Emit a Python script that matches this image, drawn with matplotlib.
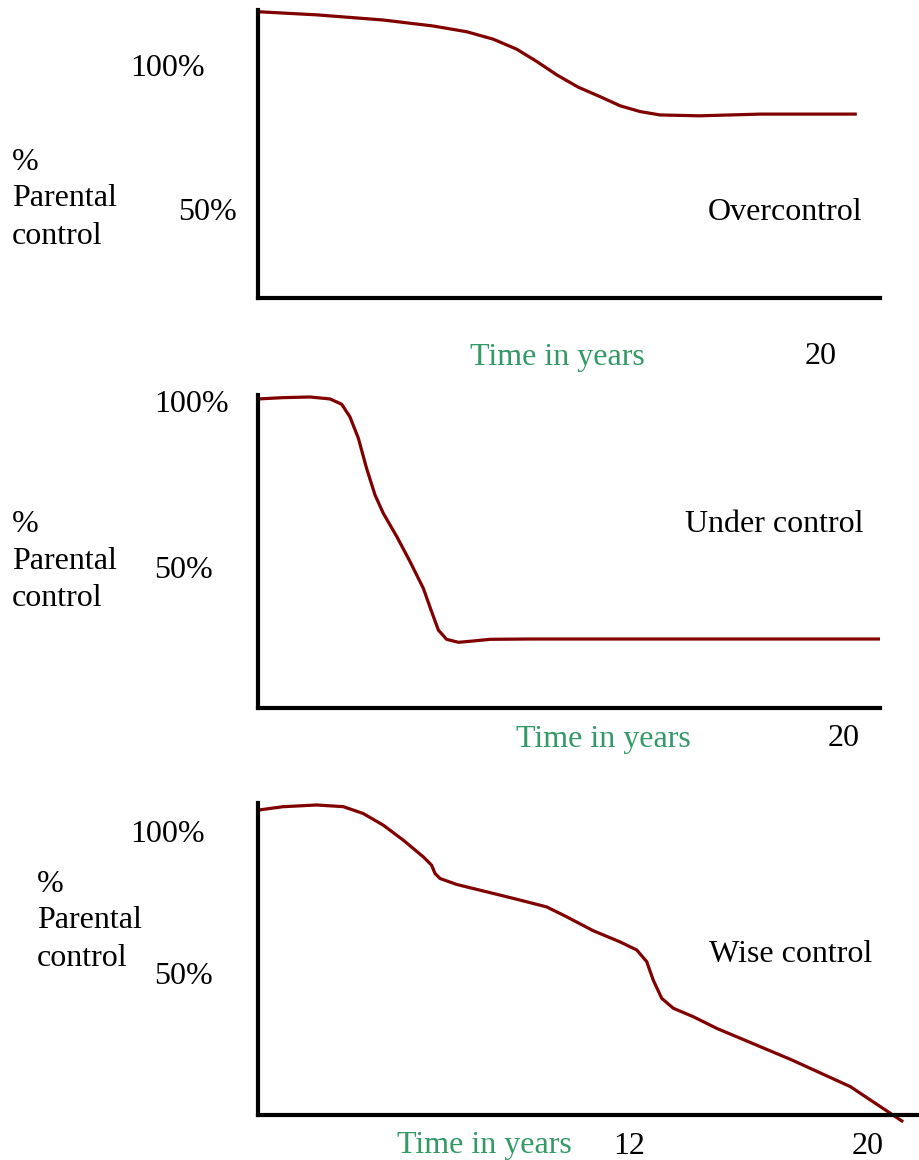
import matplotlib
matplotlib.use("Agg")
import matplotlib.pyplot as plt

W, H = 919, 1160
plt.rcParams['font.family'] = ['Liberation Serif', 'DejaVu Serif']

CURVE = "#800000"
GREEN = "#339966"

# ---- data (x: years, y: % parental control) ----
over_years = [0, 2.08, 4.43, 6.2, 7.38, 8.32, 9.15, 9.86, 10.57, 11.33, 12.1, 12.81, 13.51, 14.22, 15.63, 17.76, 21.18]
over_pct = [118.6, 117.5, 115.7, 113.6, 111.6, 109.0, 105.5, 101.2, 96.5, 92.2, 88.9, 85.7, 83.7, 82.5, 82.2, 82.8, 82.8]

under_years = [0, 0.89, 1.84, 2.55, 2.96, 3.25, 3.55, 3.84, 4.14, 4.43, 4.91, 5.38, 5.85, 6.14, 6.38,
               6.67, 7.09, 7.62, 8.21, 9.62, 22.0]
under_pct = [100.6, 101.0, 101.2, 100.6, 99.0, 95.2, 88.7, 79.6, 71.5, 66.0, 58.9, 51.3, 43.2, 36.2, 30.6,
             27.8, 26.9, 27.3, 27.8, 27.9, 27.9]

wise_years = [0, 0.89, 2.08, 3.02, 3.72, 4.43, 5.14, 5.85, 6.14, 6.26, 6.44, 7.03, 7.85, 9.03, 10.21,
              10.92, 11.86, 12.8, 13.4, 13.75, 13.98, 14.28, 14.69, 15.4, 16.23, 18.88, 20.95, 22.82]
wise_pct = [107.4, 108.6, 109.2, 108.6, 106.2, 102.1, 96.8, 90.9, 88.0, 85.1, 83.3, 81.2, 79.2, 76.3, 73.3,
            69.8, 64.9, 61.0, 58.1, 54.0, 47.5, 41.1, 37.6, 34.6, 30.5, 19.4, 10.0, -2.4]

titles = ["Overcontrol", "Under control", "Wise control"]
ylabel_lines = ["%", "Parental", "control"]
pct_labels = ["100%", "50%"]
xlabel = "Time in years"

fig = plt.figure(figsize=(W / 100, H / 100), dpi=100)


def fx(x):
    return x / W


def fy(y):
    return 1 - y / H


def add_panel(left, right, top, bottom, xlim, ylim):
    ax = fig.add_axes([fx(left), fy(bottom), fx(right - left), (bottom - top) / H])
    ax.set_xlim(*xlim)
    ax.set_ylim(*ylim)
    for s in ("top", "right"):
        ax.spines[s].set_visible(False)
    for s in ("left", "bottom"):
        ax.spines[s].set_linewidth(3.0)
        ax.spines[s].set_color("black")
        ax.spines[s].set_capstyle("projecting")
    ax.set_xticks([])
    ax.set_yticks([])
    ax.patch.set_alpha(0)
    return ax


FS = 23
DY = 4


def t(x, y, s, ha="left", color="black", **kw):
    fig.text(fx(x), fy(y + DY), s, ha=ha, va="center", fontsize=FS, color=color, **kw)


def curve(ax, xs, ys):
    ax.plot(xs, ys, color=CURVE, lw=2.3, solid_capstyle="butt",
            solid_joinstyle="round", clip_on=False)


# Panel 1
ax1 = add_panel(258, 880, 10, 298, (0, 22), (18.5, 119.2))
curve(ax1, over_years, over_pct)
t(205, 65, pct_labels[0], ha="right")
t(237, 208, pct_labels[1], ha="right")
t(12, 158, ylabel_lines[0])
t(12, 195, ylabel_lines[1])
t(12, 232, ylabel_lines[2])
t(708, 208, titles[0])
t(470, 353, xlabel, color=GREEN)
t(821, 353, "20", ha="center")

# Panel 2
ax2 = add_panel(258, 880, 395, 708, (0, 22), (7.0, 101.8))
curve(ax2, under_years, under_pct)
t(229, 401, pct_labels[0], ha="right")
t(213, 566, pct_labels[1], ha="right")
t(12, 520, ylabel_lines[0])
t(12, 557, ylabel_lines[1])
t(12, 595, ylabel_lines[2])
t(685, 520, titles[1])
t(516, 735, xlabel, color=GREEN)
t(844, 735, "20", ha="center")

# Panel 3
ax3 = add_panel(258, 919, 803, 1115, (0, 23.38), (0, 109.9))
curve(ax3, wise_years, wise_pct)
t(205, 831, pct_labels[0], ha="right")
t(213, 973, pct_labels[1], ha="right")
t(37, 880, ylabel_lines[0])
t(37, 916, ylabel_lines[1])
t(37, 955, ylabel_lines[2])
t(709, 951, titles[2])
t(397, 1142, xlabel, color=GREEN)
t(629, 1142, "12", ha="center")
t(868, 1142, "20", ha="center")

fig.savefig("out.png", dpi=100)
